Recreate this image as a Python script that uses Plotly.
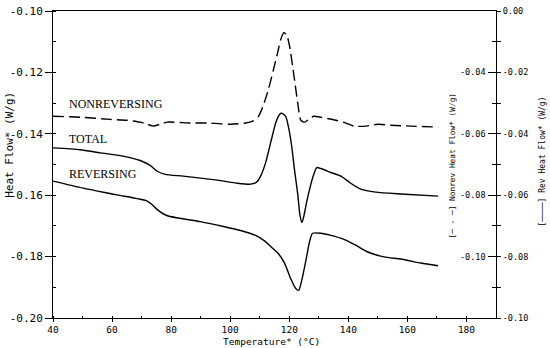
import plotly.graph_objects as go

# ---- data ----
nonrev_T = [40.0, 49.2, 59.4, 65.1, 69.5, 71.9, 74.0, 76.3, 78.7, 86.5, 93.3, 100.1, 105.2, 107.6,
            109.6, 111.3, 113.0, 114.7, 116.1, 117.1, 118.1, 119.1, 120.1, 121.5, 122.9, 123.9,
            125.2, 126.6, 128.3, 130.7, 135.8, 139.2, 141.9, 146.0, 150.0, 154.4, 161.2, 170.4]
nonrev_v = [-0.0543, -0.0546, -0.0553, -0.0556, -0.0562, -0.0569, -0.0575, -0.0569, -0.0562,
            -0.0565, -0.0565, -0.0569, -0.0565, -0.0559, -0.0543, -0.0505, -0.0453, -0.0389,
            -0.0334, -0.0293, -0.0271, -0.0277, -0.0314, -0.0405, -0.0502, -0.0556, -0.0562,
            -0.0553, -0.0543, -0.0546, -0.0556, -0.0565, -0.0575, -0.0575, -0.0569, -0.0572,
            -0.0575, -0.0578]

total_T = [40.0, 49.2, 56.0, 62.8, 69.5, 72.9, 75.3, 78.0, 84.1, 95.7, 102.5, 106.9, 108.9, 110.3,
           112.0, 113.7, 115.4, 116.7, 117.5, 118.8, 119.8, 120.8, 121.8, 122.9, 123.6, 124.3,
           124.9, 125.9, 126.9, 128.3, 129.3, 130.7, 134.1, 137.5, 140.8, 144.2, 149.3, 157.8, 170.4]
total_v = [-0.1446, -0.1452, -0.1462, -0.1471, -0.1487, -0.1503, -0.1522, -0.1532, -0.1538,
           -0.1551, -0.1561, -0.1564, -0.1558, -0.1538, -0.1494, -0.1429, -0.1365, -0.1337,
           -0.1333, -0.1343, -0.1381, -0.1439, -0.1519, -0.1599, -0.1664, -0.1689, -0.1670,
           -0.1622, -0.1580, -0.1532, -0.1510, -0.1513, -0.1526, -0.1538, -0.1561, -0.1580,
           -0.1590, -0.1596, -0.1603]

rev_T = [40.0, 50.2, 61.7, 71.9, 73.6, 75.3, 78.7, 89.9, 97.7, 103.5, 108.6, 111.5, 113.7, 116.1,
         118.4, 120.5, 122.2, 123.2, 124.2, 125.6, 126.9, 127.9, 130.7, 134.1, 138.5, 142.5,
         146.6, 152.1, 157.8, 164.6, 170.4]
rev_v = [-0.0554, -0.0577, -0.0599, -0.0619, -0.0631, -0.0647, -0.0667, -0.0686, -0.0702,
         -0.0715, -0.0731, -0.0748, -0.0767, -0.0788, -0.0821, -0.0872, -0.0904, -0.0910,
         -0.0878, -0.0814, -0.0750, -0.0724, -0.0724, -0.0731, -0.0744, -0.0763, -0.0785,
         -0.0801, -0.0808, -0.0821, -0.0830]

x_ticks = [40, 60, 80, 100, 120, 140, 160, 180]
left_ticks = [-0.10, -0.12, -0.14, -0.16, -0.18, -0.20]
nonrev_ticks = [-0.04, -0.06, -0.08, -0.10]
rev_ticks = [0.00, -0.02, -0.04, -0.06, -0.08, -0.10]

labels = ["NONREVERSING", "TOTAL", "REVERSING"]
label_y = [-0.1304, -0.1417, -0.1532]


def fmt(v):
    return ("%.2f" % v).replace("-0.00", "0.00")


MONO = "DejaVu Sans Mono"
W, H = 550, 348
L, R, T, B = 53, 54, 6, 30
pw, ph = W - L - R, H - T - B


def px(x):
    return (x - L) / pw


def py(y):
    return (H - B - y) / ph


fig = go.Figure()
fig.add_trace(go.Scatter(x=nonrev_T, y=nonrev_v, yaxis="y2", mode="lines",
                         line=dict(color="black", width=1.4, dash="11px,5px", shape="spline", smoothing=0.6)))
fig.add_trace(go.Scatter(x=total_T, y=total_v, yaxis="y", mode="lines",
                         line=dict(color="black", width=1.4, shape="spline", smoothing=0.6)))
fig.add_trace(go.Scatter(x=rev_T, y=rev_v, yaxis="y3", mode="lines",
                         line=dict(color="black", width=1.4, shape="spline", smoothing=0.6)))

xfont = dict(family=MONO, size=9.5, color="black")
lfont = dict(family=MONO, size=11, color="black")
rfont = dict(family=MONO, size=8.5, color="black")

fig.update_layout(
    width=W, height=H, showlegend=False,
    margin=dict(l=L, r=R, t=T, b=B),
    paper_bgcolor="white", plot_bgcolor="white",
    xaxis=dict(range=[40, 190], tickvals=x_ticks, ticktext=[str(v) for v in x_ticks],
               ticks="outside", ticklen=3, tickcolor="black", tickfont=xfont,
               ticklabelstandoff=0,
               showline=True, linecolor="black", linewidth=1, mirror=True,
               showgrid=False, zeroline=False,
               minor=dict(dtick=10, tick0=40, ticks="inside", ticklen=2, tickcolor="black")),
    yaxis=dict(range=[-0.20, -0.10], tickvals=left_ticks, ticktext=[fmt(v) for v in left_ticks],
               ticks="outside", ticklen=7, tickcolor="black", tickfont=lfont,
               showline=True, linecolor="black", linewidth=1,
               showgrid=False, zeroline=False,
               minor=dict(dtick=0.01, tick0=-0.20, ticks="inside", ticklen=3, tickcolor="black")),
    yaxis2=dict(range=[-0.12, -0.02], overlaying="y", side="right", anchor="x",
                tickvals=nonrev_ticks, showticklabels=False,
                ticks="inside", ticklen=8, tickcolor="black",
                showline=True, linecolor="black", linewidth=1,
                showgrid=False, zeroline=False,
                minor=dict(dtick=0.01, tick0=-0.12, ticks="inside", ticklen=4, tickcolor="black")),
    yaxis3=dict(range=[-0.10, 0.00], overlaying="y", side="right", anchor="free", position=1,
                tickvals=rev_ticks, ticktext=[fmt(v) for v in rev_ticks],
                ticks="outside", ticklen=4, tickcolor="black", tickfont=rfont,
                showline=True, linecolor="black", linewidth=1,
                showgrid=False, zeroline=False,
                minor=dict(dtick=0.01, tick0=-0.10, ticks="outside", ticklen=4, tickcolor="black")),
)

annotations = []
for text, yv in zip(labels, label_y):
    annotations.append(dict(x=44.7, y=yv, xref="x", yref="y", text=text, showarrow=False,
                            xanchor="left", yanchor="middle",
                            font=dict(family="Liberation Serif", size=12, color="black")))

# inner (Nonrev) tick labels, placed left of the right axis line
for v in nonrev_ticks:
    annotations.append(dict(x=px(488), y=v, xref="paper", yref="y2", text=fmt(v),
                            showarrow=False, xanchor="right", yanchor="middle",
                            font=rfont))

annotations += [
    dict(x=px(10), y=py(142), xref="paper", yref="paper", text="Heat Flow* (W/g)",
         textangle=-90, showarrow=False, xanchor="center", yanchor="middle",
         font=dict(family=MONO, size=11, color="black")),
    dict(x=px(452), y=py(163), xref="paper", yref="paper",
         text="[\u2500 - \u2500] Nonrev Heat Flow* (W/g)",
         textangle=-90, showarrow=False, xanchor="center", yanchor="middle",
         font=dict(family=MONO, size=7.8, color="black")),
    dict(x=px(543), y=py(159), xref="paper", yref="paper",
         text="[\u2500\u2500\u2500\u2500] Rev Heat Flow* (W/g)",
         textangle=-90, showarrow=False, xanchor="center", yanchor="middle",
         font=dict(family=MONO, size=8, color="black")),
    dict(x=px(271), y=py(341.5), xref="paper", yref="paper", text="Temperature* (\u00b0C)",
         showarrow=False, xanchor="center", yanchor="middle",
         font=dict(family=MONO, size=9.5, color="black")),
]
fig.update_layout(annotations=annotations)

fig.write_html("out.html")
